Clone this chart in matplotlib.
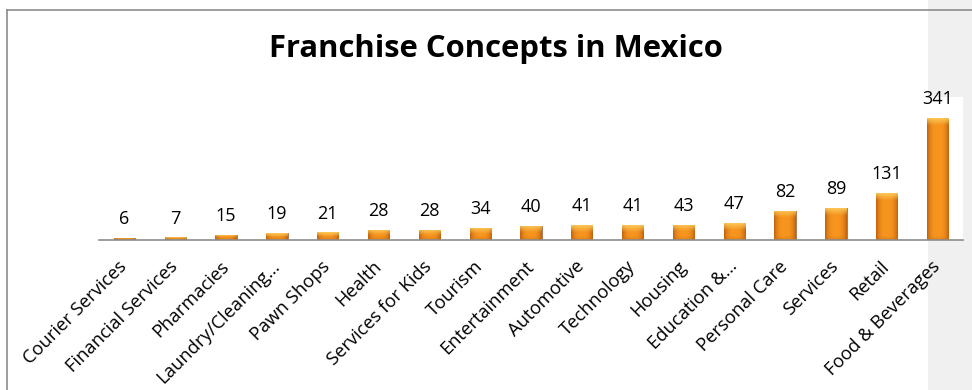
import numpy as np
import matplotlib
matplotlib.use("Agg")
import matplotlib.pyplot as plt
from matplotlib.patches import Rectangle
from matplotlib.lines import Line2D
from matplotlib.colors import to_rgb

# data
categories = ["Courier Services", "Financial Services", "Pharmacies", "Laundry/Cleaning…",
              "Pawn Shops", "Health", "Services for Kids", "Tourism", "Entertainment",
              "Automotive", "Technology", "Housing", "Education &…", "Personal Care",
              "Services", "Retail", "Food & Beverages"]
values = [6, 7, 15, 19, 21, 28, 28, 34, 40, 41, 41, 43, 47, 82, 89, 131, 341]

title = "Franchise Concepts in Mexico"
font = "Open Sans"

W, H = 972, 390
fig = plt.figure(figsize=(W / 100, H / 100), dpi=100)
fig.patch.set_facecolor("white")

# grey strip on the right and the chart frame
fig.patches.append(Rectangle((928 / W, 0), 1 - 928 / W, 1, transform=fig.transFigure,
                             facecolor="#f0f0f0", edgecolor="none", zorder=-1))
fig.lines.append(Line2D([7 / W, 7 / W], [0, 1 - 10 / H], transform=fig.transFigure,
                        color="#8c8c8c", lw=1.2))
fig.lines.append(Line2D([7 / W, 1], [1 - 10 / H, 1 - 10 / H], transform=fig.transFigure,
                        color="#8c8c8c", lw=1.2))

ax = fig.add_axes([99 / W, 1 - 240 / H, 864 / W, 143 / H])
ax.set_facecolor("white")

x = np.arange(len(categories))
bw = 0.42
bars = ax.bar(x, values, width=bw, color="#f39020", edgecolor="#9a7050", linewidth=0.6, zorder=2)

ax.set_xlim(-0.5, len(categories) - 0.5)
ax.set_ylim(0, 400)

# gradient fill for a bevelled look
edge = np.array(to_rgb("#c2650f"))
mid = np.array(to_rgb("#f7951f"))
top = np.array(to_rgb("#fdd060"))
px_per_unit = 143 / 400
for b in bars:
    h = b.get_height()
    nrow = max(int(h * px_per_unit * 2), 2)
    ncol = 24
    u = np.linspace(-1, 1, ncol)
    prof = np.clip(np.abs(u) ** 3, 0, 1)[None, :, None]
    img = mid * (1 - prof) + edge * prof
    img = np.repeat(img, nrow, axis=0)
    rows_px = np.linspace(h * px_per_unit, 0, nrow)[:, None, None]
    from_top = h * px_per_unit - rows_px
    bev = np.clip(1 - from_top / min(7, h * px_per_unit * 0.5 + 0.5), 0, 1) * 0.85
    img = img * (1 - bev) + top * bev
    bottom_dark = np.clip(1 - rows_px / 4, 0, 1) * 0.35
    img = img * (1 - bottom_dark) + edge * bottom_dark
    im = ax.imshow(img, extent=[b.get_x(), b.get_x() + bw, 0, h], aspect="auto",
                   interpolation="bilinear", zorder=2.5)
    im.set_clip_path(b)

for xi, v in zip(x, values):
    ax.annotate(str(v), (xi, v), xytext=(0, 10), textcoords="offset points",
                ha="center", va="baseline", fontsize=13, family=font, color="black")

for s in ["top", "right", "left"]:
    ax.spines[s].set_visible(False)
ax.spines["bottom"].set_color("#8c8c8c")
ax.spines["bottom"].set_linewidth(1.2)
ax.set_yticks([])
ax.set_xticks(x)
ax.set_xticklabels(categories, rotation=45, ha="right", va="center",
                   rotation_mode="anchor", fontsize=13.2, family=font)
ax.tick_params(axis="x", length=0, pad=17)

fig.text(496 / W, 1 - 49 / H, title, ha="center", va="center",
         fontsize=22.3, fontweight="bold", family=font)

fig.savefig("out.png", dpi=100)
